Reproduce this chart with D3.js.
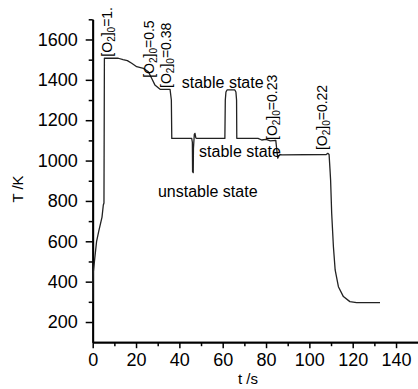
<!DOCTYPE html>
<html>
<head>
<meta charset="utf-8">
<script src="https://cdn.jsdelivr.net/npm/d3@7/dist/d3.min.js"></script>
<style>
  html, body { margin: 0; padding: 0; background: #fff; }
  svg { display: block; font-family: "Liberation Sans", Arial, sans-serif; }
</style>
</head>
<body>
<svg id="chart" width="418" height="389"></svg>
<script>
// Temperature history of the reactor, T (K) against time t (s)
const timeS = [0, 0.1, 0.3, 0.8, 1.8, 2.8, 4.3, 4.9, 5.2, 5.4, 11.8, 14.0, 16.0, 18.0, 20.3, 23.4, 25.7, 27.2, 28.7, 31.1,
  35.7, 36.3, 36.5, 45.7, 46.0, 46.1, 46.4, 46.5, 46.9, 47.2, 47.6, 48.0,
  61.0, 61.2, 61.5, 62.0, 65.6, 66.1, 66.4, 66.5, 76.3, 78.0, 80.0, 82.0, 84.5, 84.9, 85.4, 86.0, 86.5, 87.5,
  107.8, 108.5, 109.1, 109.5, 109.8, 110.3, 111.1, 111.9, 113.4, 115.7, 118.7, 121.8, 132.6];
const tempK = [300, 400, 450, 500, 600, 650, 720, 780, 790, 1507, 1507, 1500, 1495, 1482, 1465, 1457, 1440, 1408, 1375, 1353,
  1353, 1300, 1110, 1110, 1090, 945, 940, 1060, 1130, 1135, 1112, 1110,
  1110, 1300, 1340, 1350, 1350, 1340, 1300, 1110, 1110, 1102, 1105, 1098, 1100, 1060, 1012, 1025, 1030, 1028,
  1030, 1036, 1030, 960, 904, 739, 573, 458, 375, 326, 301, 296, 296];

// Axis ticks
const yMajor = [200, 400, 600, 800, 1000, 1200, 1400, 1600];
const yMinor = [300, 500, 700, 900, 1100, 1300, 1500, 1700];
const xMajor = [0, 20, 40, 60, 80, 100, 120, 140];
const xMinor = [10, 30, 50, 70, 90, 110, 130];

// Annotations: inlet oxygen level changes (vertical) and state notes
const o2Times = [9.0, 28.3, 36.1, 85.1, 108.1];
const o2Temps = [1515, 1410, 1360, 1102, 1052];
const o2Values = ["1.", "0.5", "0.38", "0.23", "0.22"];
const stateTexts = ["stable state", "stable state", "unstable state"];
const stateTimes = [41.1, 49.1, 30.1];
const stateTemps = [1360, 1018, 821];

const svg = d3.select("#chart");
const x = d3.scaleLinear().domain([0, 150]).range([92.7, 417.7]);
const y = d3.scaleLinear().domain([100, 1700]).range([342.2, 19.3]);

// y axis
svg.append("g").attr("transform", `translate(${x(0)},0)`)
  .call(d3.axisLeft(y).tickValues(yMajor).tickFormat(d3.format("d")).tickSize(7).tickPadding(8).tickSizeOuter(0));
svg.append("g").attr("transform", `translate(${x(0)},0)`)
  .call(d3.axisLeft(y).tickValues(yMinor).tickFormat("").tickSize(4).tickSizeOuter(0));

// x axis
svg.append("g").attr("transform", `translate(0,${y(100)})`)
  .call(d3.axisBottom(x).tickValues(xMajor).tickFormat(d3.format("d")).tickSize(6).tickPadding(5).tickSizeOuter(0));
svg.append("g").attr("transform", `translate(0,${y(100)})`)
  .call(d3.axisBottom(x).tickValues(xMinor).tickFormat("").tickSize(4).tickSizeOuter(0));

svg.selectAll(".domain").attr("stroke", "#000").attr("stroke-width", 1.8);
svg.selectAll(".tick line").attr("stroke", "#000").attr("stroke-width", 1.5);
svg.selectAll(".tick text").attr("fill", "#000").style("font-size", "18px")
  .style("font-family", "'Liberation Sans', Arial, sans-serif");

// axis titles
svg.append("text").attr("x", 248).attr("y", 384).attr("text-anchor", "middle")
  .style("font-size", "15px").text("t /s");
svg.append("text").attr("transform", "translate(23,189) rotate(-90)").attr("text-anchor", "middle")
  .style("font-size", "15px").text("T /K");

// temperature curve
const pts = timeS.map((t, i) => [t, tempK[i]]);
svg.append("path").datum(pts)
  .attr("fill", "none").attr("stroke", "#222").attr("stroke-width", 1.3)
  .attr("stroke-linejoin", "round")
  .attr("d", d3.line().x(d => x(d[0])).y(d => y(d[1])));

// [O2]0 labels, rotated
o2Values.forEach((v, i) => {
  const t = svg.append("text")
    .attr("transform", `translate(${x(o2Times[i])},${y(o2Temps[i])}) rotate(-90)`)
    .style("font-size", "14px").attr("fill", "#000");
  t.append("tspan").text("[O");
  t.append("tspan").attr("dy", 3).style("font-size", "10px").text("2");
  t.append("tspan").attr("dy", -3).text("]");
  t.append("tspan").attr("dy", 3).style("font-size", "10px").text("0");
  t.append("tspan").attr("dy", -3).text("=" + v);
});

// state notes
stateTexts.forEach((s, i) => {
  svg.append("text").attr("x", x(stateTimes[i])).attr("y", y(stateTemps[i]))
    .style("font-size", "16px").attr("fill", "#000").text(s);
});
</script>
</body>
</html>
